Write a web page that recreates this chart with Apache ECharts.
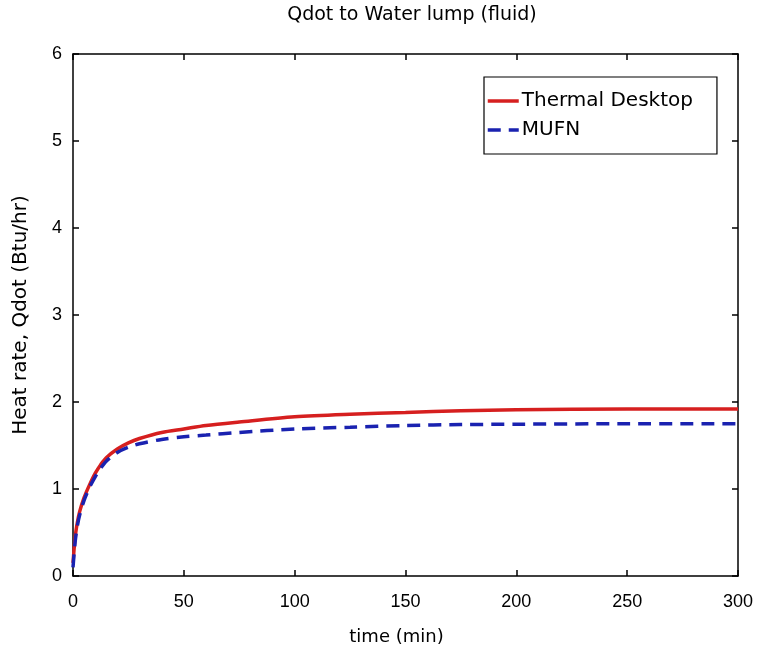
<!DOCTYPE html>
<html>
<head>
<meta charset="utf-8">
<script src="https://cdn.jsdelivr.net/npm/echarts@6/dist/echarts.min.js"></script>
<style>
  html, body { margin: 0; padding: 0; background: #fff; }
  #chart { width: 763px; height: 652px; }
</style>
</head>
<body>
<div id="chart"></div>
<script>
// Time samples (min)
const timeMin = [0, 1, 2, 3, 5, 7.5, 10, 12.5, 15, 20, 25, 30, 40, 50, 60, 75, 100, 125, 150, 175, 200, 250, 300];
// Heat rate from Thermal Desktop (Btu/hr)
const thermalDesktop = [0.15, 0.45, 0.62, 0.74, 0.90, 1.05, 1.18, 1.28, 1.36, 1.46, 1.53, 1.58, 1.65, 1.69, 1.73, 1.77, 1.83, 1.86, 1.88, 1.90, 1.91, 1.92, 1.92];
// Heat rate from MUFN (Btu/hr)
const mufn = [0.10, 0.40, 0.58, 0.70, 0.87, 1.02, 1.14, 1.24, 1.32, 1.42, 1.48, 1.52, 1.57, 1.60, 1.62, 1.65, 1.69, 1.71, 1.73, 1.74, 1.745, 1.75, 1.75];

const seriesNames = ['Thermal Desktop', 'MUFN'];
const xTicks = { min: 0, max: 300, interval: 50 };
const yTicks = { min: 0, max: 6, interval: 1 };

const pairs = (xs, ys) => xs.map((x, i) => [x, ys[i]]);

const TEXT_FONT = 'DejaVu Sans, sans-serif';
const NUM_FONT = 'Liberation Sans, Arial, sans-serif';
const RED = '#d61f1f';
const BLUE = '#1a22b0';

const axisCommon = {
  axisLine: { show: true, onZero: false, lineStyle: { color: '#000', width: 1.5 } },
  axisTick: { show: true, inside: true, length: 6, lineStyle: { color: '#000', width: 1.5 } },
  splitLine: { show: false }
};

const chart = echarts.init(document.getElementById('chart'), null, { renderer: 'canvas' });
chart.setOption({
  animation: false,
  backgroundColor: '#fff',
  title: {
    text: 'Qdot to Water lump (fluid)',
    left: 407, top: 1, textAlign: 'center',
    textStyle: { fontFamily: TEXT_FONT, fontSize: 19, fontWeight: 'normal', color: '#000' }
  },
  grid: { left: 73, top: 54, right: 25, bottom: 76, containLabel: false },
  legend: {
    data: seriesNames,
    orient: 'vertical',
    left: 484, top: 77,
    padding: [14, 24, 14, 2],
    itemGap: 9,
    itemWidth: 31,
    itemHeight: 14,
    borderColor: '#000', borderWidth: 1.2,
    backgroundColor: '#fff',
    itemStyle: { opacity: 0 },
    lineStyle: { width: 3.5 },
    textStyle: { fontFamily: TEXT_FONT, fontSize: 20, color: '#000', padding: [0, 0, 0, -2] }
  },
  xAxis: [
    Object.assign({
      type: 'value', position: 'bottom', ...xTicks,
      name: 'time (min)', nameLocation: 'middle', nameGap: 52,
      nameTextStyle: { fontFamily: TEXT_FONT, fontSize: 18, color: '#000', padding: [0, 18, 0, 0] },
      axisLabel: { fontFamily: NUM_FONT, fontSize: 18, color: '#000', margin: 17 }
    }, axisCommon),
    Object.assign({
      type: 'value', position: 'top', ...xTicks,
      axisLabel: { show: false }
    }, axisCommon)
  ],
  yAxis: [
    Object.assign({
      type: 'value', position: 'left', ...yTicks,
      name: 'Heat rate, Qdot (Btu/hr)', nameLocation: 'middle', nameGap: 42, nameRotate: 90,
      nameTextStyle: { fontFamily: TEXT_FONT, fontSize: 20, color: '#000' },
      axisLabel: { fontFamily: NUM_FONT, fontSize: 18, color: '#000', margin: 11 }
    }, axisCommon),
    Object.assign({
      type: 'value', position: 'right', ...yTicks,
      axisLabel: { show: false }
    }, axisCommon)
  ],
  series: [
    {
      name: seriesNames[0], type: 'line', xAxisIndex: 0, yAxisIndex: 0,
      data: pairs(timeMin, thermalDesktop),
      showSymbol: false, symbol: 'none', smooth: 0.3,
      lineStyle: { color: RED, width: 3.5 },
      itemStyle: { color: RED }
    },
    {
      name: seriesNames[1], type: 'line', xAxisIndex: 0, yAxisIndex: 0,
      data: pairs(timeMin, mufn),
      showSymbol: false, symbol: 'none', smooth: 0.3,
      lineStyle: { color: BLUE, width: 3.5, type: [13, 8] },
      itemStyle: { color: BLUE }
    }
  ]
});
</script>
</body>
</html>
